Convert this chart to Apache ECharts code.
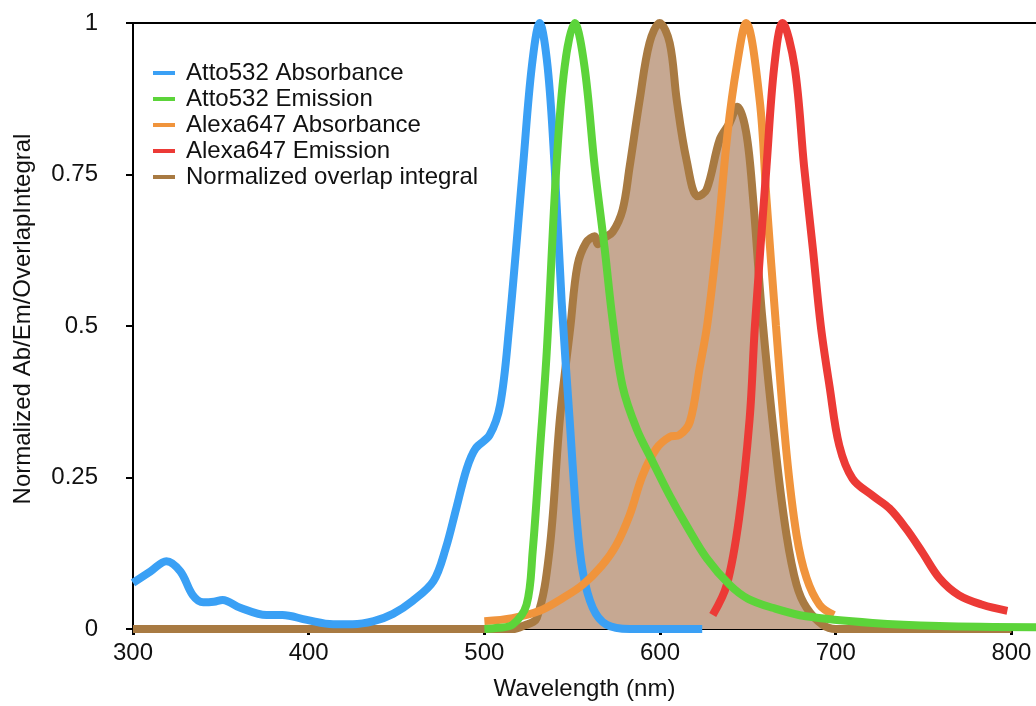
<!DOCTYPE html>
<html>
<head>
<meta charset="utf-8">
<script src="https://cdn.jsdelivr.net/npm/echarts@6/dist/echarts.min.js"></script>
<style>
  html, body { margin: 0; padding: 0; background: #fff; }
  #maindiv { width: 1036px; height: 706px; }
</style>
</head>
<body>
<div id="maindiv"></div>
<script>
// wavelength (nm), normalized value
var attoAbs = [
  [300, 0.076], [310, 0.095], [319, 0.112], [327, 0.095], [334, 0.056], [340, 0.044],
  [346, 0.045], [351, 0.048], [361, 0.035], [376, 0.023], [385, 0.023], [399, 0.015],
  [414, 0.008], [425, 0.008], [437, 0.013], [448, 0.025], [459, 0.046], [471, 0.079],
  [478, 0.133], [484, 0.199], [490, 0.265], [495, 0.298], [503, 0.32], [509, 0.37],
  [514, 0.495], [522, 0.763], [527, 0.928], [531.5, 1.0], [536, 0.928], [540, 0.763],
  [544, 0.54], [548.5, 0.347], [552.5, 0.183], [556, 0.095], [561.7, 0.035],
  [569.6, 0.007], [582.7, 0.0], [624, 0.0]
];
var attoEm = [
  [500, 0.0], [508, 0.002], [516, 0.007], [524, 0.04], [527.5, 0.128], [531.5, 0.29],
  [535.5, 0.457], [541, 0.763], [545.7, 0.928], [551.4, 1.0], [557, 0.928], [562.8, 0.763],
  [568.5, 0.627], [573, 0.51], [578.7, 0.40], [586.7, 0.33], [595.8, 0.276], [605.5, 0.22],
  [615, 0.171], [626.5, 0.117], [639.6, 0.073], [650, 0.05], [664, 0.035], [683, 0.021],
  [721, 0.01], [759, 0.005], [814, 0.003]
];
var alexaAbs = [
  [500, 0.013], [516, 0.018], [531.5, 0.03], [544.6, 0.051], [556, 0.073], [567, 0.105],
  [575, 0.138], [582.7, 0.188], [590, 0.253], [598, 0.298], [605.5, 0.317], [611, 0.32],
  [617, 0.342], [622.5, 0.43], [627, 0.505], [633, 0.655], [638.5, 0.82], [643.6, 0.928],
  [649, 1.0], [656.7, 0.873], [660.6, 0.709], [666, 0.5], [672, 0.29], [677.7, 0.155],
  [683.4, 0.084], [690.8, 0.04], [699, 0.023]
];
var alexaEm = [
  [630, 0.023], [638, 0.073], [645, 0.183], [651, 0.347], [654, 0.5], [660.6, 0.763],
  [665, 0.928], [669.7, 1.0], [676.6, 0.928], [682, 0.763], [687, 0.627], [691.5, 0.5],
  [696.5, 0.40], [702, 0.303], [709.6, 0.248], [721, 0.22], [730.6, 0.199], [740, 0.166],
  [749, 0.128], [759, 0.084], [770, 0.056], [783.5, 0.04], [797.7, 0.03]
];
var overlap = [
  [300, 0], [516, 0], [522, 0.005], [529.8, 0.018], [537, 0.128], [543, 0.347], [549, 0.5],
  [553, 0.6], [558, 0.638], [562.8, 0.648], [564.5, 0.635], [568, 0.645], [573, 0.655],
  [578.7, 0.692], [582.7, 0.763], [588.4, 0.873], [594, 0.967], [599.8, 1.0], [605.5, 0.967],
  [609.5, 0.873], [615, 0.775], [621.4, 0.714], [626.5, 0.725], [634, 0.808], [639.6, 0.835],
  [644, 0.862], [649, 0.82], [653, 0.709], [658, 0.52], [666, 0.29], [672, 0.155],
  [677.7, 0.073], [683.4, 0.035], [692.5, 0.007], [700, 0], [800, 0]
];

var legendNames = ['Atto532 Absorbance', 'Atto532 Emission', 'Alexa647 Absorbance',
  'Alexa647 Emission', 'Normalized overlap integral'];
var colors = ['#3aa0f5', '#5cd43a', '#f0943c', '#ec3a36', '#a87a42'];
var fontName = 'Liberation Sans, Arial, Helvetica, sans-serif';

function lineSeries(name, data, color) {
  return {
    name: name,
    type: 'line',
    data: data,
    smooth: 0.35,
    symbol: 'none',
    lineStyle: { color: color, width: 8 },
    itemStyle: { color: color }
  };
}

var chart = echarts.init(document.getElementById('maindiv'));
var overlapSeries = lineSeries(legendNames[4], overlap, colors[4]);
overlapSeries.areaStyle = { color: '#c6a892', opacity: 1 };

chart.setOption({
  animation: false,
  textStyle: { fontFamily: fontName },
  grid: { left: 133, top: 23, right: 0, bottom: 75 },
  legend: {
    data: legendNames,
    orient: 'vertical',
    left: 148,
    top: 55,
    itemGap: 0,
    itemWidth: 22,
    itemHeight: 4,
    icon: 'rect',
    textStyle: { fontSize: 24, lineHeight: 26, color: '#111', fontFamily: fontName, padding: [0, 0, 0, 6] }
  },
  xAxis: [{
    type: 'value',
    min: 300,
    max: 814,
    interval: 100,
    name: 'Wavelength (nm)',
    nameLocation: 'middle',
    nameGap: 48,
    nameTextStyle: { fontSize: 24, color: '#111', fontFamily: fontName },
    axisLine: { lineStyle: { color: '#000', width: 2 } },
    axisTick: { length: 6, lineStyle: { color: '#000', width: 3 } },
    axisLabel: { fontSize: 24, color: '#111', margin: 12, fontFamily: fontName },
    splitLine: { show: false }
  }, {
    type: 'value',
    position: 'top',
    min: 300,
    max: 814,
    axisLine: { show: true, lineStyle: { color: '#000', width: 2 } },
    axisTick: { show: false },
    axisLabel: { show: false },
    splitLine: { show: false }
  }],
  yAxis: {
    type: 'value',
    min: 0,
    max: 1,
    interval: 0.25,
    name: 'Normalized Ab/Em/OverlapIntegral',
    nameLocation: 'middle',
    nameGap: 98,
    nameTextStyle: { fontSize: 24, color: '#111', fontFamily: fontName, padding: [0, 0, 0, 14] },
    axisLine: { show: true, lineStyle: { color: '#000', width: 2 } },
    axisTick: { show: true, length: 7, lineStyle: { color: '#000', width: 2 } },
    axisLabel: { fontSize: 24, color: '#111', margin: 35, fontFamily: fontName },
    splitLine: { show: false }
  },
  series: [
    overlapSeries,
    lineSeries(legendNames[0], attoAbs, colors[0]),
    lineSeries(legendNames[2], alexaAbs, colors[2]),
    lineSeries(legendNames[3], alexaEm, colors[3]),
    lineSeries(legendNames[1], attoEm, colors[1])
  ]
});
</script>
</body>
</html>
